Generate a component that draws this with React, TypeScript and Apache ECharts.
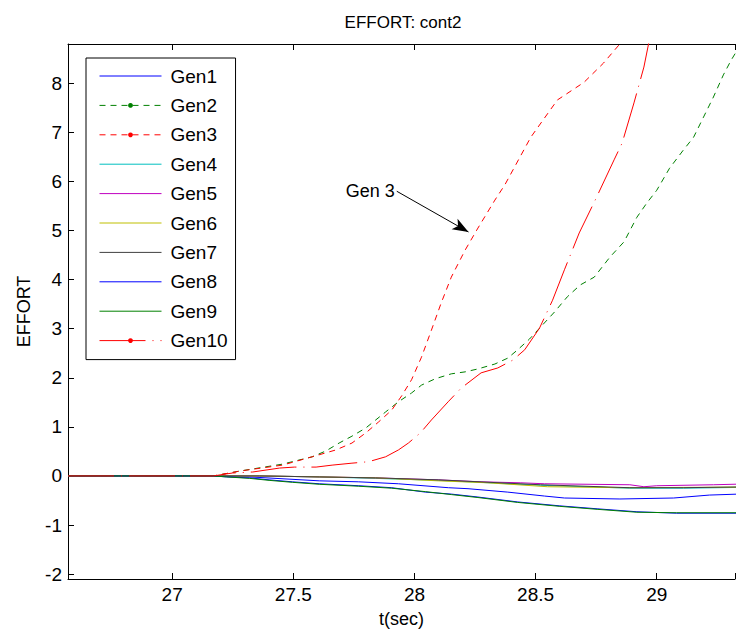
import React, { useEffect, useRef } from "react";
import * as echarts from "echarts";

// ---------- data ----------
const SERIES_NAMES = ["Gen1", "Gen2", "Gen3", "Gen4", "Gen5", "Gen6", "Gen7", "Gen8", "Gen9", "Gen10"];

const GEN1_T = [26.57, 27.17, 27.32, 27.607, 27.77, 27.934, 28.14, 28.221, 28.385, 28.537, 28.619, 28.848, 29.07, 29.217, 29.4];
const GEN1_V = [0, 0, -0.02, -0.1, -0.12, -0.16, -0.24, -0.26, -0.33, -0.41, -0.45, -0.47, -0.45, -0.39, -0.36];

const GEN2_T = [26.57, 27.17, 27.28, 27.455, 27.578, 27.635, 27.689, 27.742, 27.8, 27.84, 27.88, 27.934, 27.988, 28.029, 28.086, 28.152, 28.209, 28.262, 28.332, 28.385, 28.426, 28.475, 28.52, 28.578, 28.631, 28.684, 28.742, 28.807, 28.865, 28.918, 28.959, 29.0, 29.053, 29.11, 29.152, 29.193, 29.234, 29.275, 29.307, 29.36];
const GEN2_V = [0, 0, 0.1, 0.24, 0.39, 0.51, 0.67, 0.81, 0.98, 1.14, 1.3, 1.51, 1.69, 1.85, 1.98, 2.08, 2.12, 2.18, 2.28, 2.4, 2.57, 2.79, 3.03, 3.34, 3.65, 3.89, 4.05, 4.46, 4.77, 5.27, 5.56, 5.82, 6.27, 6.64, 6.9, 7.31, 7.72, 8.17, 8.47, 8.9];

const GEN3_T = [26.57, 27.17, 27.28, 27.455, 27.578, 27.676, 27.742, 27.8, 27.852, 27.906, 27.947, 27.988, 28.029, 28.07, 28.11, 28.152, 28.209, 28.262, 28.332, 28.373, 28.48, 28.59, 28.7, 28.78, 28.844, 28.877];
const GEN3_V = [0, 0, 0.1, 0.22, 0.39, 0.53, 0.67, 0.88, 1.1, 1.34, 1.63, 1.96, 2.42, 2.97, 3.52, 4.05, 4.6, 5.05, 5.62, 5.93, 6.9, 7.66, 8.02, 8.41, 8.78, 9.1];

const GEN4_T = [26.57, 27.17, 27.36, 27.607, 27.84, 28.098, 28.52, 28.889, 29.11, 29.4];
const GEN4_V = [0, 0, 0, -0.02, -0.05, -0.09, -0.19, -0.25, -0.25, -0.23];

const GEN5_T = [26.57, 27.17, 27.36, 27.607, 27.84, 28.098, 28.275, 28.439, 28.537, 28.889, 28.947, 29.0, 29.234, 29.4];
const GEN5_V = [0, 0, 0, -0.02, -0.04, -0.08, -0.12, -0.14, -0.16, -0.18, -0.22, -0.2, -0.18, -0.16];

const GEN6_T = [26.57, 27.17, 27.36, 27.607, 27.84, 28.098, 28.303, 28.549, 28.865, 29.275, 29.4];
const GEN6_V = [0, 0, 0, -0.02, -0.04, -0.1, -0.14, -0.22, -0.24, -0.23, -0.23];

const GEN7_T = [26.57, 27.17, 27.36, 27.607, 27.84, 28.098, 28.52, 28.889, 29.11, 29.4];
const GEN7_V = [0, 0, 0, -0.02, -0.04, -0.08, -0.18, -0.24, -0.24, -0.22];

const GEN8_T = [26.57, 27.17, 27.225, 27.32, 27.4, 27.496, 27.607, 27.77, 27.906, 28.045, 28.152, 28.262, 28.426, 28.6, 28.754, 28.918, 29.082, 29.4];
const GEN8_V = [0, 0, -0.02, -0.04, -0.08, -0.12, -0.16, -0.2, -0.24, -0.33, -0.37, -0.43, -0.53, -0.61, -0.67, -0.73, -0.76, -0.76];

const GEN9_T = [26.57, 27.17, 27.225, 27.32, 27.4, 27.496, 27.607, 27.77, 27.906, 28.045, 28.152, 28.262, 28.426, 28.6, 28.754, 28.918, 29.082, 29.4];
const GEN9_V = [0, 0, -0.02, -0.05, -0.09, -0.13, -0.17, -0.21, -0.25, -0.32, -0.38, -0.44, -0.54, -0.62, -0.68, -0.74, -0.75, -0.75];

const GEN10_T = [26.57, 27.17, 27.25, 27.332, 27.443, 27.504, 27.594, 27.66, 27.742, 27.811, 27.881, 27.934, 27.975, 28.025, 28.07, 28.139, 28.193, 28.275, 28.344, 28.406, 28.455, 28.516, 28.57, 28.619, 28.68, 28.746, 28.824, 28.857, 28.906, 28.947, 28.967, 28.985];
const GEN10_V = [0, 0, 0.06, 0.08, 0.16, 0.18, 0.18, 0.22, 0.26, 0.29, 0.39, 0.53, 0.67, 0.88, 1.14, 1.51, 1.79, 2.1, 2.2, 2.36, 2.57, 3.01, 3.58, 4.2, 4.95, 5.62, 6.44, 6.78, 7.6, 8.33, 8.82, 9.2];

const X_MIN = 26.57;
const X_MAX = 29.323;
const Y_MIN = -2.1;
const Y_MAX = 8.8;
const X_TICK_STEP = 0.5;
const Y_TICK_STEP = 1;

const ANNOT_TEXT = "Gen 3";
const ANNOT_FROM = [27.927, 5.8];
const ANNOT_TO = [28.223, 4.97];

// ---------- styling ----------
const FONT = 'Arial, "Liberation Sans", Helvetica, sans-serif';
const COLORS = ["#0000ff", "#008000", "#ff0000", "#00bfbf", "#bf00bf", "#bfbf00", "#404040", "#0000ff", "#008000", "#ff0000"];
const DASHES: any[] = ["solid", [6, 5], [6, 5], "solid", "solid", "solid", "solid", "solid", "solid", [46, 7, 1, 7]];
const HAS_DOT = [false, true, true, false, false, false, false, false, false, true];

const T_ARRAYS = [GEN1_T, GEN2_T, GEN3_T, GEN4_T, GEN5_T, GEN6_T, GEN7_T, GEN8_T, GEN9_T, GEN10_T];
const V_ARRAYS = [GEN1_V, GEN2_V, GEN3_V, GEN4_V, GEN5_V, GEN6_V, GEN7_V, GEN8_V, GEN9_V, GEN10_V];

const isMultiple = (v: number, step: number) => Math.abs(v / step - Math.round(v / step)) < 1e-6;

export default function App() {
  const ref = useRef<HTMLDivElement>(null);

  useEffect(() => {
    if (!ref.current) return;
    const chart = echarts.init(ref.current, null, { renderer: "svg" });

    const series: any[] = SERIES_NAMES.map((name, i) => {
      const s: any = {
        name,
        type: "line",
        data: T_ARRAYS[i].map((t, k) => [t, V_ARRAYS[i][k]]),
        symbol: "circle",
        symbolSize: 5,
        showSymbol: false,
        smooth: false,
        clip: true,
        lineStyle: { color: COLORS[i], width: 1, type: DASHES[i] },
        itemStyle: { color: COLORS[i] },
        emphasis: { disabled: true },
      };
      if (name === "Gen3") {
        s.markLine = {
          silent: true,
          symbol: ["none", "arrow"],
          symbolSize: [9, 16],
          lineStyle: { color: "#000", width: 1, type: "solid" },
          label: { show: false },
          data: [[{ coord: ANNOT_FROM }, { coord: ANNOT_TO }]],
        };
        s.markPoint = {
          silent: true,
          symbol: "circle",
          symbolSize: 0,
          label: {
            show: true,
            position: "left",
            distance: 2,
            formatter: ANNOT_TEXT,
            color: "#000",
            fontSize: 18,
            fontFamily: FONT,
          },
          data: [{ coord: ANNOT_FROM }],
        };
      }
      return s;
    });

    const xCommon = {
      type: "value",
      min: X_MIN,
      max: X_MAX,
      splitNumber: 5,
      axisLine: { show: true, onZero: false, lineStyle: { color: "#000", width: 1 } },
      axisTick: { show: true, inside: true, length: 6, lineStyle: { color: "#000" } },
      splitLine: { show: false },
    };

    const option: any = {
      animation: false,
      backgroundColor: "#fff",
      title: {
        text: "EFFORT: cont2",
        left: 398,
        top: 9,
        textAlign: "center",
        textStyle: { fontSize: 17, fontWeight: "normal", color: "#000", fontFamily: FONT },
      },
      legend: {
        orient: "vertical",
        left: 86,
        top: 58,
        padding: [8.5, 8, 9.5, 13],
        itemWidth: 62,
        itemHeight: 6,
        itemGap: 10.4,
        backgroundColor: "#fff",
        borderColor: "#000",
        borderWidth: 1,
        borderRadius: 0,
        selectedMode: false,
        lineStyle: { width: 1 },
        textStyle: { fontSize: 19, color: "#000", fontFamily: FONT, padding: [0, 0, 0, 4] },
        data: SERIES_NAMES.map((n, i) =>
          HAS_DOT[i] ? { name: n } : { name: n, itemStyle: { opacity: 0, color: "rgba(0,0,0,0)" } }
        ),
      },
      grid: { left: 68, top: 44, right: 0, bottom: 56, containLabel: false },
      xAxis: [
        {
          ...xCommon,
          position: "bottom",
          name: "t(sec)",
          nameLocation: "middle",
          nameGap: 31,
          nameTextStyle: { fontSize: 18, color: "#000", fontFamily: FONT },
          axisLabel: {
            color: "#000",
            fontSize: 19,
            fontFamily: FONT,
            margin: 6,
            formatter: (v: number) => (isMultiple(v, X_TICK_STEP) ? String(+v.toFixed(1)) : ""),
          },
        },
        {
          ...xCommon,
          position: "top",
          axisLabel: { show: false },
        },
      ],
      yAxis: [
        {
          type: "value",
          min: Y_MIN,
          max: Y_MAX,
          splitNumber: 10,
          name: "EFFORT",
          nameLocation: "middle",
          nameGap: 35,
          nameRotate: 90,
          nameTextStyle: { fontSize: 18, color: "#000", fontFamily: FONT },
          axisLine: { show: true, onZero: false, lineStyle: { color: "#000", width: 1 } },
          axisTick: { show: true, inside: true, length: 6, lineStyle: { color: "#000" } },
          axisLabel: {
            color: "#000",
            fontSize: 19,
            fontFamily: FONT,
            margin: 6,
            formatter: (v: number) => (isMultiple(v, Y_TICK_STEP) ? String(Math.round(v)) : ""),
          },
          splitLine: { show: false },
        },
      ],
      series,
    };

    chart.setOption(option);
    return () => chart.dispose();
  }, []);

  return (
    <div
      ref={ref}
      style={{ position: "fixed", left: 0, top: 0, width: 738, height: 635, background: "#fff" }}
    />
  );
}
